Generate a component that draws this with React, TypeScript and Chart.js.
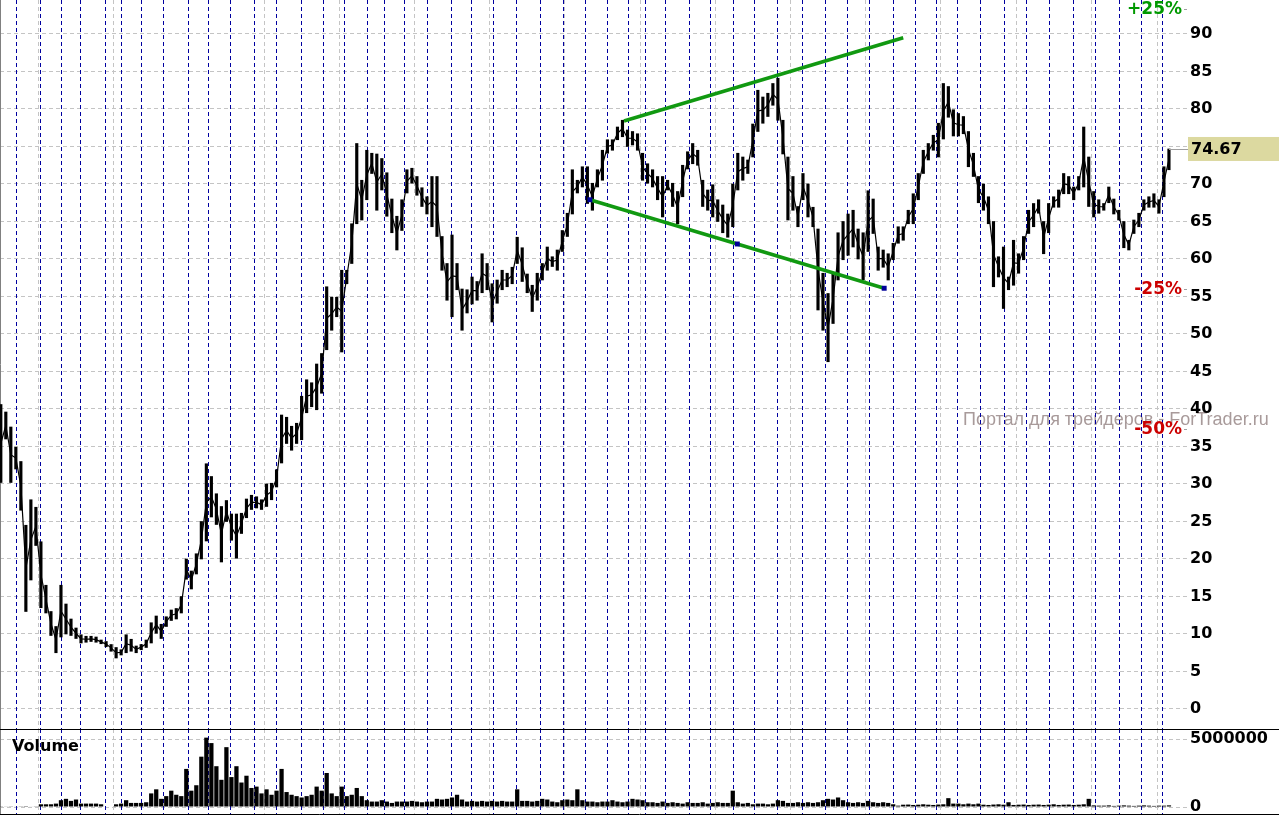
import React, { useEffect, useRef } from 'react';
import { Chart, registerables } from 'chart.js';

Chart.register(...registerables);

// price bars, one per ~3.5 weeks (sample index on the x axis)
const LOW = [
  30.2, 36.0, 30.2, 32.0, 26.5, 13.0, 17.2, 21.8, 13.5, 12.8,
  9.8, 7.5, 9.6, 10.0, 9.8, 9.4, 8.8, 8.9, 9.0, 8.9,
  8.7, 8.3, 7.7, 6.8, 7.2, 7.5, 7.7, 7.5, 7.9, 8.2,
  8.8, 10.1, 9.4, 11.0, 11.8, 12.0, 12.8, 17.3, 16.0, 18.0,
  20.0, 22.4, 25.6, 24.6, 19.6, 25.0, 22.5, 20.1, 23.4, 25.5,
  26.6, 26.8, 26.6, 27.0, 27.9, 29.6, 32.8, 35.4, 34.5, 35.4,
  35.9, 39.5, 40.3, 39.9, 42.1, 47.9, 50.5, 52.3, 47.6, 56.7,
  59.4, 64.7, 65.2, 67.9, 71.4, 66.5, 69.2, 65.7, 63.5, 61.2,
  63.8, 68.8, 70.1, 68.5, 67.0, 66.0, 64.3, 63.0, 58.5, 54.5,
  52.3, 55.9, 50.5, 52.8, 54.0, 54.5, 55.5, 55.9, 51.6, 54.1,
  55.9, 56.3, 56.7, 59.4, 57.0, 55.5, 53.0, 54.5, 57.2, 58.5,
  59.0, 58.5, 61.0, 63.0, 66.0, 68.8, 69.6, 67.4, 66.5, 69.6,
  70.5, 74.1, 74.5, 75.9, 76.3, 75.0, 75.2, 74.5, 70.5, 70.1,
  69.6, 67.9, 65.6, 69.2, 67.0, 64.7, 68.3, 72.0, 72.7, 72.5,
  67.0, 66.5, 65.6, 65.0, 63.5, 62.9, 64.3, 69.2, 70.5, 71.4,
  73.6, 77.0, 78.1, 79.0, 80.5, 78.5, 74.0, 65.2, 66.5, 64.3,
  67.9, 65.6, 64.3, 53.2, 50.5, 46.3, 51.4, 57.2, 59.9, 60.5,
  61.6, 60.0, 57.2, 61.0, 63.4, 58.5, 58.9, 57.2, 59.9, 62.1,
  62.5, 64.7, 64.7, 67.9, 71.4, 73.2, 74.5, 73.6, 76.0, 78.9,
  76.4, 76.4, 76.7, 72.3, 71.0, 67.5, 66.5, 64.7, 56.3, 57.6,
  53.4, 55.9, 56.5, 58.1, 59.9, 63.4, 64.3, 66.1, 60.7, 63.5,
  66.9, 66.9, 68.7, 68.7, 67.9, 69.2, 69.6, 67.0, 65.6, 66.1,
  66.5, 67.5, 66.0, 65.2, 61.5, 61.2, 63.4, 64.3, 66.5, 66.9,
  66.9, 66.1, 68.3, 71.9,
];

const HIGH = [
  40.6, 39.6, 37.6, 34.9, 33.0, 24.5, 27.9, 26.9, 22.3, 16.5,
  13.0, 11.0, 16.5, 14.0, 12.0, 10.8, 9.9, 9.7, 9.7, 9.6,
  9.2, 9.0, 8.6, 8.2, 7.9, 9.9, 9.3, 8.4, 8.6, 9.2,
  11.5, 12.4, 11.3, 12.3, 13.2, 13.4, 15.0, 20.0, 18.4, 20.7,
  25.0, 32.7, 31.0, 28.7, 27.0, 27.8, 26.0, 26.0, 26.1, 28.0,
  28.5, 28.3, 27.9, 30.0, 30.1, 31.9, 39.2, 38.9, 37.7, 38.1,
  41.7, 43.9, 43.5, 46.0, 47.4, 56.3, 54.9, 54.9, 58.5, 58.5,
  64.7, 75.4, 70.5, 74.5, 74.1, 74.0, 73.4, 71.5, 68.0, 65.7,
  67.9, 71.9, 72.1, 71.0, 69.5, 68.3, 71.0, 71.0, 63.0, 59.4,
  63.2, 59.4, 56.0, 55.9, 57.6, 57.0, 60.7, 59.4, 56.7, 57.2,
  58.5, 58.1, 58.9, 62.9, 61.5, 58.0, 56.5, 58.1, 59.4, 61.6,
  60.3, 61.2, 63.8, 66.1, 71.9, 70.5, 72.3, 72.3, 70.1, 71.9,
  74.5, 75.9, 75.9, 77.6, 78.5, 77.2, 77.0, 76.7, 74.1, 72.7,
  71.9, 71.0, 71.0, 70.5, 70.1, 69.0, 72.5, 74.3, 75.4, 74.5,
  70.5, 69.2, 69.9, 67.9, 67.2, 66.0, 70.0, 74.1, 73.6, 73.2,
  78.0, 82.5, 81.6, 82.1, 83.4, 84.1, 78.5, 73.6, 71.0, 67.0,
  71.4, 70.0, 66.9, 64.0, 58.1, 55.4, 58.0, 63.5, 65.0, 66.0,
  66.5, 64.0, 63.5, 69.1, 68.0, 61.6, 61.2, 60.7, 62.1, 64.3,
  64.3, 66.5, 68.7, 71.4, 74.5, 75.4, 76.5, 78.1, 83.4, 83.0,
  79.9, 79.4, 79.0, 77.0, 74.1, 71.0, 70.0, 68.3, 65.0, 60.3,
  61.6, 57.6, 62.5, 60.7, 63.0, 66.5, 67.4, 67.9, 65.0, 67.4,
  68.3, 69.2, 71.4, 71.0, 69.6, 71.0, 77.6, 73.6, 69.0, 67.9,
  67.4, 69.6, 68.0, 66.5, 65.0, 62.5, 65.2, 66.1, 67.9, 68.3,
  68.7, 67.9, 72.3, 74.67,
];

// volume in millions of shares, same samples
const VOLUME_M = [
  0.05, 0.03, 0.05, 0.04, 0.05, 0.06, 0.04, 0.05, 0.2, 0.2,
  0.2, 0.25, 0.5, 0.6, 0.45, 0.55, 0.25, 0.25, 0.25, 0.25,
  0.2, 0, 0, 0.2, 0.25, 0.5, 0.3, 0.3, 0.3, 0.35,
  1.0, 1.3, 0.6, 0.8, 1.2, 0.9, 0.8, 2.8, 1.2, 1.6,
  3.7, 5.1, 4.7, 3.0, 2.0, 4.4, 2.2, 3.0, 1.8, 2.3,
  1.4, 1.5, 1.0, 1.3, 0.9, 1.2, 2.8, 1.1, 0.9, 0.8,
  0.7, 0.8, 0.9, 1.5, 1.2, 2.5, 1.0, 0.8, 1.5, 0.8,
  0.9, 1.4, 0.8, 0.5, 0.4, 0.4, 0.5, 0.4, 0.3, 0.4,
  0.4, 0.4, 0.45, 0.4, 0.35, 0.4, 0.4, 0.6, 0.55, 0.6,
  0.7, 0.9, 0.55, 0.4, 0.45, 0.4, 0.45, 0.4, 0.45, 0.4,
  0.45, 0.4, 0.4, 1.3, 0.45, 0.45, 0.4, 0.45, 0.6, 0.55,
  0.4, 0.35, 0.5, 0.55, 0.5, 1.3, 0.5, 0.4, 0.4, 0.35,
  0.4, 0.4, 0.5, 0.4, 0.35, 0.4, 0.6, 0.55, 0.5, 0.35,
  0.35, 0.3, 0.4, 0.3, 0.35, 0.3, 0.25, 0.35, 0.3, 0.3,
  0.35, 0.25, 0.3, 0.35, 0.3, 0.3, 1.2, 0.35, 0.25, 0.3,
  0.2, 0.25, 0.25, 0.2, 0.25, 0.5, 0.45, 0.3, 0.3, 0.35,
  0.3, 0.35, 0.3, 0.35, 0.5, 0.6, 0.55, 0.7, 0.5, 0.35,
  0.3, 0.35, 0.3, 0.45, 0.35, 0.3, 0.35, 0.3, 0.2, 0.1,
  0.17, 0.18, 0.15, 0.17, 0.2, 0.17, 0.15, 0.18, 0.2, 0.65,
  0.25, 0.25, 0.2, 0.25, 0.2, 0.25, 0.17, 0.15, 0.18, 0.2,
  0.17, 0.35, 0.15, 0.17, 0.18, 0.15, 0.17, 0.18, 0.15, 0.17,
  0.2, 0.15, 0.17, 0.18, 0.15, 0.17, 0.2, 0.6, 0.12, 0.1,
  0.1, 0.12, 0.08, 0.1, 0.12, 0.1, 0.08, 0.1, 0.12, 0.1,
  0.08, 0.1, 0.1, 0.12,
];

// blue dashed event markers (sample index)
const EVENT_X = [
  3.0, 7.8, 12.0, 15.8, 20.8, 24.0, 28.0, 32.4, 37.3, 41.3,
  45.7, 50.5, 54.9, 59.9, 64.3, 68.5, 73.0, 76.4, 80.4, 85.0,
  89.8, 93.8, 98.2, 102.8, 107.6, 112.2, 116.5, 120.9, 125.1, 128.5,
  132.5, 137.3, 141.5, 146.1, 150.3, 154.8, 159.8, 164.4, 168.8, 173.2,
  178.0, 182.4, 186.6, 190.7, 195.3, 200.1, 204.5, 209.1, 213.9, 218.3,
  223.1, 227.5, 231.6,
];

// yearly vertical grid lines (sample index)
const YEAR_STARTS = [15, 30, 45, 60, 75, 90, 105, 120, 135, 150, 165, 180, 195, 210, 225];
const PRICE_TICKS = [0, 5, 10, 15, 20, 25, 30, 35, 40, 45, 50, 55, 60, 65, 70, 75, 80, 85, 90];
const VOLUME_TICKS = [0, 5000000];

const LAST_PRICE = 74.67;
const PCT_LABELS = ['+25%', '-25%', '-50%'];
const PCT_FACTORS = [1.25, 0.75, 0.5];

const UPPER_TREND = [
  { x: 124.3, y: 78.4 },
  { x: 180.0, y: 89.5 },
];
const LOWER_TREND = [
  { x: 117.5, y: 67.9 },
  { x: 146.9, y: 62.0 },
  { x: 176.2, y: 56.1 },
];

const X_MIN = -0.16;
const X_MAX = 236.6;
const AXIS_W = 92;
const W = 1279;
const PRICE_H = 729;
const VOL_H = 87;
const LABEL_FONT = 'bold 16px "DejaVu Sans"';
const GRID_GREY = '#c4c4c4';

function xAxis(): any {
  return {
    type: 'linear',
    min: X_MIN,
    max: X_MAX,
    offset: false,
    ticks: { display: false },
    grid: { color: GRID_GREY, drawTicks: false, tickLength: 0 },
    border: { display: false, dash: [4, 3] },
    afterBuildTicks: (s: any) => {
      s.ticks = [...YEAR_STARTS, X_MAX].map((value) => ({ value }));
    },
    afterFit: (s: any) => {
      s.height = 0;
      s.paddingLeft = 0;
      s.paddingRight = 0;
    },
  };
}

function yAxis(min: number, max: number, ticks: number[]): any {
  return {
    position: 'right',
    min,
    max,
    afterBuildTicks: (s: any) => {
      s.ticks = ticks.map((value) => ({ value }));
    },
    ticks: {
      color: '#000',
      font: { family: 'DejaVu Sans', size: 16, weight: 'bold' },
      padding: 3,
      autoSkip: false,
      callback: (v: any) => String(v),
    },
    grid: { color: GRID_GREY, drawTicks: false, tickLength: 0 },
    border: { display: false, dash: [4, 3] },
    afterFit: (s: any) => {
      s.width = AXIS_W;
      s.paddingTop = 0;
      s.paddingBottom = 0;
    },
  };
}

// blue event lines + grey left border, under the data
const eventLines = {
  id: 'eventLines',
  beforeDatasetsDraw(chart: any) {
    const { ctx, chartArea, scales } = chart;
    ctx.save();
    ctx.strokeStyle = '#0000a0';
    ctx.lineWidth = 1;
    ctx.setLineDash([4, 3]);
    EVENT_X.forEach((v) => {
      const px = Math.round(scales.x.getPixelForValue(v)) + 0.5;
      ctx.beginPath();
      ctx.moveTo(px, chartArea.top);
      ctx.lineTo(px, chartArea.bottom);
      ctx.stroke();
    });
    ctx.setLineDash([]);
    ctx.strokeStyle = '#808080';
    ctx.beginPath();
    ctx.moveTo(0.5, chartArea.top);
    ctx.lineTo(0.5, chartArea.bottom);
    ctx.stroke();
    ctx.restore();
  },
};

const priceExtras = {
  id: 'priceExtras',
  beforeDraw(chart: any) {
    const { ctx } = chart;
    ctx.save();
    ctx.fillStyle = '#a89a9a';
    ctx.font = '18px "Liberation Sans"';
    ctx.textBaseline = 'alphabetic';
    ctx.fillText('Портал для трейдеров - ForTrader.ru', 963, 425);
    ctx.restore();
  },
  afterDraw(chart: any) {
    const { ctx, chartArea, scales } = chart;
    const right = chartArea.right;
    ctx.save();
    // percent levels from the last price
    ctx.font = 'bold 17px "DejaVu Sans"';
    ctx.textAlign = 'right';
    ctx.textBaseline = 'middle';
    PCT_LABELS.forEach((label, i) => {
      const y = scales.y.getPixelForValue(LAST_PRICE * PCT_FACTORS[i]);
      ctx.fillStyle = PCT_FACTORS[i] > 1 ? '#009900' : '#cc0000';
      ctx.fillText(label, right - 5, y + 1);
      ctx.strokeStyle = '#a0a0a0';
      ctx.lineWidth = 1;
      ctx.beginPath();
      ctx.moveTo(right - 3, Math.round(y) + 0.5);
      ctx.lineTo(right, Math.round(y) + 0.5);
      ctx.stroke();
    });
    // last price tag
    ctx.font = LABEL_FONT;
    const yp = scales.y.getPixelForValue(LAST_PRICE);
    const xLast = scales.x.getPixelForValue(LOW.length - 1);
    ctx.strokeStyle = '#a0a0a0';
    ctx.beginPath();
    ctx.moveTo(xLast, Math.round(yp) + 0.5);
    ctx.lineTo(right + 1, Math.round(yp) + 0.5);
    ctx.stroke();
    ctx.fillStyle = '#dcd9a0';
    ctx.fillRect(right + 1, yp - 12, W - right, 24);
    ctx.fillStyle = '#000';
    ctx.textAlign = 'left';
    ctx.fillText(LAST_PRICE.toFixed(2), right + 4, yp + 1);
    ctx.restore();
  },
};

const volumeExtras = {
  id: 'volumeExtras',
  afterDraw(chart: any) {
    const { ctx, chartArea } = chart;
    ctx.save();
    ctx.strokeStyle = '#000';
    ctx.lineWidth = 1;
    ctx.beginPath();
    ctx.moveTo(0, 0.5);
    ctx.lineTo(W, 0.5);
    ctx.moveTo(0, chartArea.bottom + 0.5);
    ctx.lineTo(W, chartArea.bottom + 0.5);
    ctx.stroke();
    ctx.fillStyle = '#000';
    ctx.font = LABEL_FONT;
    ctx.textBaseline = 'middle';
    ctx.fillText('Volume', 12, 18);
    ctx.restore();
  },
};

export default function App() {
  const priceRef = useRef<HTMLCanvasElement | null>(null);
  const volRef = useRef<HTMLCanvasElement | null>(null);

  useEffect(() => {
    if (!priceRef.current || !volRef.current) return;

    const price = new Chart(priceRef.current, {
      type: 'bar',
      data: {
        datasets: [
          {
            type: 'line',
            data: UPPER_TREND,
            borderColor: '#119911',
            borderWidth: 3.5,
            pointRadius: 0,
            order: 0,
          } as any,
          {
            type: 'line',
            data: LOWER_TREND,
            borderColor: '#119911',
            borderWidth: 3.5,
            pointStyle: 'rect',
            pointRadius: 3.5,
            pointBackgroundColor: '#000099',
            pointBorderWidth: 0,
            order: 0,
          } as any,
          {
            // thin path through the middle of each bar ties the bars together
            type: 'line',
            data: LOW.map((lo, i) => ({ x: i, y: (lo + HIGH[i]) / 2 })),
            borderColor: '#000',
            borderWidth: 1.2,
            pointRadius: 0,
            tension: 0,
            order: 1,
          } as any,
          {
            type: 'bar',
            data: LOW.map((lo, i) => ({ x: i, y: [lo, HIGH[i]] })),
            backgroundColor: '#000',
            borderWidth: 0,
            barThickness: 2.5,
            order: 2,
          } as any,
        ],
      },
      options: {
        responsive: false,
        animation: false,
        layout: { padding: 0, autoPadding: false },
        plugins: { legend: { display: false }, tooltip: { enabled: false } },
        scales: {
          x: xAxis(),
          y: yAxis(-2.667, 94.533, PRICE_TICKS),
        },
      },
      plugins: [eventLines, priceExtras],
    });

    const volume = new Chart(volRef.current, {
      type: 'bar',
      data: {
        datasets: [
          {
            data: VOLUME_M.map((v, i) => ({ x: i, y: v * 1000000 })),
            backgroundColor: '#000',
            borderWidth: 0,
            barPercentage: 0.85,
            categoryPercentage: 1,
          },
        ],
      },
      options: {
        responsive: false,
        animation: false,
        layout: { padding: { top: 0, bottom: 2, left: 0, right: 0 }, autoPadding: false },
        plugins: { legend: { display: false }, tooltip: { enabled: false } },
        scales: {
          x: xAxis(),
          y: yAxis(-514700, 5735300, VOLUME_TICKS),
        },
      },
      plugins: [eventLines, volumeExtras],
    });

    return () => {
      price.destroy();
      volume.destroy();
    };
  }, []);

  return (
    <div style={{ position: 'fixed', left: 0, top: 0, width: W, height: PRICE_H + VOL_H, background: '#fff' }}>
      <canvas ref={priceRef} width={W} height={PRICE_H} style={{ display: 'block', width: W, height: PRICE_H }} />
      <canvas ref={volRef} width={W} height={VOL_H} style={{ display: 'block', width: W, height: VOL_H }} />
    </div>
  );
}
